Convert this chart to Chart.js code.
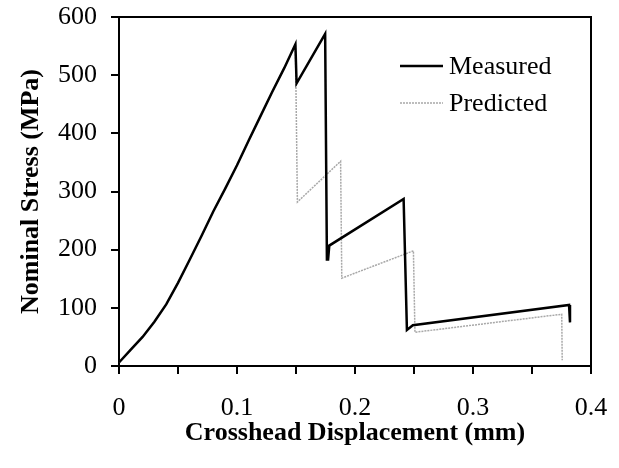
<!DOCTYPE html>
<html>

<head>
    <title>Nominal Stress vs Crosshead Displacement</title>
    <style>
        html, body { margin: 0; padding: 0; background: #fff; }
        #wrap { width: 619px; height: 468px; }
    </style>
</head>

<body>
    <div id="wrap"><canvas id="stressChart" width="619" height="468"></canvas></div>

    <script src="https://cdn.jsdelivr.net/npm/chart.js"></script>
    <script>
        // Measured curve (displacement in mm, stress in MPa)
        const measuredX = [0, 0.01, 0.02, 0.03, 0.04, 0.05, 0.06, 0.07, 0.08, 0.09, 0.10, 0.11, 0.12, 0.13, 0.14, 0.1495,
            0.1505, 0.1747, 0.1762, 0.1772, 0.1782, 0.2412, 0.2440, 0.2490, 0.3814, 0.3822];
        const measuredY = [6, 28, 50, 76, 106, 143, 183, 224, 266, 305, 345, 388, 430, 472, 512, 553,
            486, 571, 183, 183, 207, 287, 62, 70, 105, 75];

        // Predicted curve
        const predictedX = [0, 0.01, 0.02, 0.03, 0.04, 0.05, 0.06, 0.07, 0.08, 0.09, 0.10, 0.11, 0.12, 0.13, 0.14, 0.1495,
            0.1512, 0.1878, 0.1888, 0.2495, 0.2508, 0.3752, 0.3756];
        const predictedY = [6, 28, 50, 76, 106, 143, 183, 224, 266, 305, 345, 388, 430, 472, 512, 553,
            282, 352, 151, 198, 58, 89, 10];

        const seriesNames = ["Measured", "Predicted"];
        const xTickLabels = ["0", "0.1", "0.2", "0.3", "0.4"];
        const yTickLabels = ["0", "100", "200", "300", "400", "500", "600"];

        const toPoints = (xs, ys) => xs.map((x, i) => ({ x: x, y: ys[i] }));

        const serif = "'Liberation Serif', 'Times New Roman', serif";

        // box around the plot + legend inside the plot area
        const framePlugin = {
            id: 'frame',
            afterDraw(chart) {
                const { ctx, chartArea } = chart;
                ctx.save();
                ctx.strokeStyle = '#000';
                ctx.lineWidth = 2;
                ctx.beginPath();
                ctx.moveTo(chartArea.left, chartArea.top);
                ctx.lineTo(chartArea.right, chartArea.top);
                ctx.lineTo(chartArea.right, chartArea.bottom);
                ctx.stroke();

                ctx.font = "26px " + serif;
                ctx.textBaseline = 'middle';
                ctx.fillStyle = '#000';
                chart.data.datasets.forEach((ds, i) => {
                    const y = chartArea.top + 49 + i * 37;
                    const x0 = chartArea.right - 191;
                    ctx.strokeStyle = ds.borderColor;
                    ctx.lineWidth = ds.borderWidth;
                    ctx.setLineDash(ds.borderDash || []);
                    ctx.beginPath();
                    ctx.moveTo(x0, y);
                    ctx.lineTo(x0 + 43, y);
                    ctx.stroke();
                    ctx.setLineDash([]);
                    ctx.fillText(ds.label, x0 + 49, y + 1);
                });
                ctx.restore();
            }
        };

        new Chart(document.getElementById('stressChart'), {
            type: 'scatter',
            data: {
                datasets: [
                    {
                        label: seriesNames[0],
                        data: toPoints(measuredX, measuredY),
                        showLine: true,
                        borderColor: '#000',
                        borderWidth: 2.5,
                        pointRadius: 0,
                        tension: 0,
                    },
                    {
                        label: seriesNames[1],
                        data: toPoints(predictedX, predictedY),
                        showLine: true,
                        borderColor: '#a8a8a8',
                        borderWidth: 1.5,
                        borderDash: [2, 1],
                        pointRadius: 0,
                        tension: 0,
                    },
                ],
            },
            options: {
                responsive: false,
                animation: false,
                layout: { padding: { top: 17, right: 28, left: 0, bottom: 0 } },
                plugins: {
                    legend: { display: false },
                    tooltip: { enabled: false },
                },
                scales: {
                    x: {
                        type: 'linear',
                        min: 0,
                        max: 0.4,
                        afterFit: (scale) => {
                            scale.height = 102;
                            scale.paddingLeft = 0;
                            scale.paddingRight = 0;
                        },
                        border: { display: true, color: '#000', width: 2 },
                        grid: { drawOnChartArea: false, drawTicks: true, tickLength: 8, color: '#000', lineWidth: 2 },
                        ticks: {
                            stepSize: 0.05,
                            padding: 19,
                            maxRotation: 0,
                            color: '#000',
                            font: { family: serif, size: 26 },
                            callback: (v) => {
                                const k = Math.round(v * 20);
                                return k % 2 === 0 ? xTickLabels[k / 2] : '';
                            },
                        },
                        title: {
                            display: true,
                            text: 'Crosshead Displacement (mm)',
                            color: '#000',
                            font: { family: serif, size: 26, weight: 'bold' },
                            padding: { top: 0, bottom: 19 },
                        },
                    },
                    y: {
                        min: 0,
                        max: 600,
                        afterFit: (scale) => {
                            scale.width = 119;
                            scale.paddingTop = 0;
                            scale.paddingBottom = 0;
                        },
                        border: { display: true, color: '#000', width: 2 },
                        grid: { drawOnChartArea: false, drawTicks: true, tickLength: 8, color: '#000', lineWidth: 2 },
                        ticks: {
                            stepSize: 50,
                            padding: 14,
                            color: '#000',
                            font: { family: serif, size: 26 },
                            callback: (v) => {
                                const k = Math.round(v / 50);
                                return k % 2 === 0 ? yTickLabels[k / 2] : '';
                            },
                        },
                        title: {
                            display: true,
                            text: 'Nominal Stress (MPa)',
                            color: '#000',
                            font: { family: serif, size: 26, weight: 'bold' },
                            padding: { top: 16, bottom: 0 },
                        },
                    },
                },
            },
            plugins: [framePlugin],
        });
    </script>
</body>

</html>
